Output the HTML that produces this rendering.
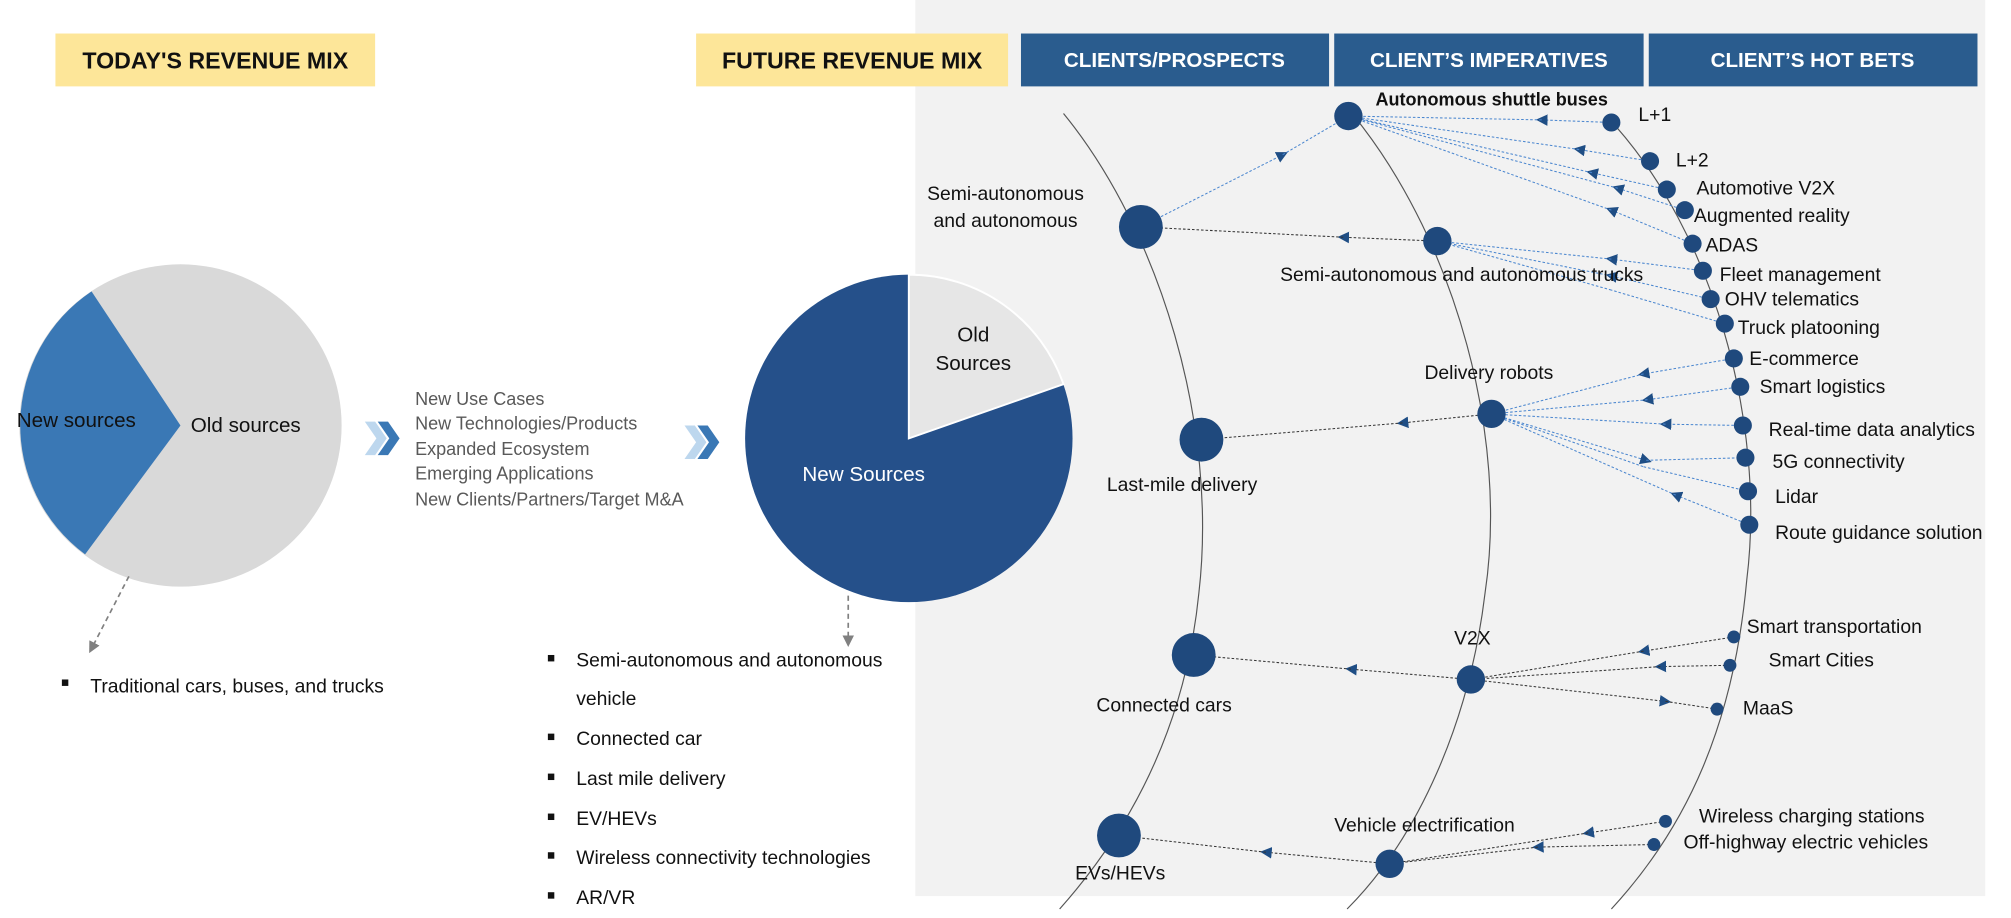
<!DOCTYPE html>
<html><head><meta charset="utf-8"><style>
html,body{margin:0;padding:0;background:#fff;}
svg{display:block;font-family:"Liberation Sans",sans-serif;}
</style></head><body>
<svg width="2011" height="918" viewBox="0 0 1560 712" preserveAspectRatio="none" xmlns="http://www.w3.org/2000/svg">
<defs>
<marker id="ab" viewBox="0 0 10 10" refX="5" refY="5" markerWidth="9" markerHeight="9" orient="auto" markerUnits="userSpaceOnUse"><path d="M0,0L10,5L0,10z" fill="#1f4e85"/></marker>
<marker id="ak" viewBox="0 0 10 10" refX="5" refY="5" markerWidth="9" markerHeight="9" orient="auto" markerUnits="userSpaceOnUse"><path d="M0,0L10,5L0,10z" fill="#1f4e85"/></marker>
<marker id="ag" viewBox="0 0 10 10" refX="8" refY="5" markerWidth="9" markerHeight="9" orient="auto" markerUnits="userSpaceOnUse"><path d="M0,0L10,5L0,10z" fill="#808080"/></marker>
</defs>
<rect x="710" y="0" width="830" height="695" fill="#f2f2f2"/>
<!-- headers -->
<rect x="43" y="26" width="248" height="41" fill="#fde699"/>
<text x="167" y="53" font-size="18" font-weight="bold" text-anchor="middle" fill="#111">TODAY'S REVENUE MIX</text>
<rect x="540" y="26" width="242" height="41" fill="#fde699"/>
<text x="661" y="53" font-size="18" font-weight="bold" text-anchor="middle" fill="#111">FUTURE REVENUE MIX</text>
<rect x="792" y="26" width="239" height="41" fill="#2a5c8e"/>
<text x="911" y="52" font-size="16" font-weight="bold" text-anchor="middle" fill="#fff">CLIENTS/PROSPECTS</text>
<rect x="1035" y="26" width="240" height="41" fill="#2a5c8e"/>
<text x="1155" y="52" font-size="16" font-weight="bold" text-anchor="middle" fill="#fff">CLIENT’S IMPERATIVES</text>
<rect x="1279" y="26" width="255" height="41" fill="#2a5c8e"/>
<text x="1406" y="52" font-size="16" font-weight="bold" text-anchor="middle" fill="#fff">CLIENT’S HOT BETS</text>

<!-- left pie -->
<circle cx="140" cy="330" r="125" fill="#d9d9d9"/>
<path d="M140,330 L71,226 A125,125 0 0 0 66,430 Z" fill="#3a78b5"/>
<text x="13" y="331" font-size="16" fill="#111">New sources</text>
<text x="148" y="335" font-size="16" fill="#111">Old sources</text>
<line x1="100" y1="447" x2="70" y2="505" stroke="#808080" stroke-width="1.3" stroke-dasharray="4,3" marker-end="url(#ag)"/>
<rect x="48" y="527" width="5" height="5" fill="#111"/>
<text x="70" y="537" font-size="15" fill="#111">Traditional cars, buses, and trucks</text>

<!-- chevrons -->
<path d="M283,327 h8 l9,13 l-9,13 h-8 l9,-13z" fill="#bdd7ee"/>
<path d="M293,327 h8 l9,13 l-9,13 h-8 l9,-13z" fill="#3a78b5"/>
<path d="M531,330 h8 l9,13 l-9,13 h-8 l9,-13z" fill="#bdd7ee"/>
<path d="M541,330 h8 l9,13 l-9,13 h-8 l9,-13z" fill="#3a78b5"/>
<g font-size="14" fill="#595959">
<text x="322" y="314">New Use Cases</text>
<text x="322" y="333">New Technologies/Products</text>
<text x="322" y="353">Expanded Ecosystem</text>
<text x="322" y="372">Emerging Applications</text>
<text x="322" y="392">New Clients/Partners/Target M&amp;A</text>
</g>

<!-- right pie -->
<circle cx="705" cy="340" r="127" fill="#25508a"/>
<path d="M705,340 L705,213 A127,127 0 0 1 825,298 Z" fill="#e6e6e6" stroke="#fff" stroke-width="1.5"/>
<text x="755" y="265" font-size="16" text-anchor="middle" fill="#111">Old</text>
<text x="755" y="287" font-size="16" text-anchor="middle" fill="#111">Sources</text>
<text x="670" y="373" font-size="16" text-anchor="middle" fill="#fff">New Sources</text>
<line x1="658" y1="462" x2="658" y2="500" stroke="#808080" stroke-width="1.3" stroke-dasharray="4,3" marker-end="url(#ag)"/>
<g font-size="15" fill="#111">
<rect x="425" y="508" width="5" height="5"/><text x="447" y="517">Semi-autonomous and autonomous</text>
<text x="447" y="547">vehicle</text>
<rect x="425" y="569" width="5" height="5"/><text x="447" y="578">Connected car</text>
<rect x="425" y="600" width="5" height="5"/><text x="447" y="609">Last mile delivery</text>
<rect x="425" y="631" width="5" height="5"/><text x="447" y="640">EV/HEVs</text>
<rect x="425" y="661" width="5" height="5"/><text x="447" y="670">Wireless connectivity technologies</text>
<rect x="425" y="692" width="5" height="5"/><text x="447" y="701">AR/VR</text>
</g>

<!-- arcs -->
<g fill="none" stroke="#555" stroke-width="0.9">
<path d="M825,88 C900,180 945,330 930,460 C920,560 880,640 822,705"/>
<path d="M1052,92 C1130,190 1170,340 1152,460 C1140,560 1100,650 1045,705"/>
<path d="M1248,92 C1330,180 1370,330 1355,450 C1345,560 1310,640 1250,705"/>
</g>

<!-- connectors hot bets -> imperatives (blue) -->
<g stroke="#4a86cf" stroke-width="0.8" stroke-dasharray="2,1.5" fill="none">
<path d="M1250,95 L1196,93" marker-end="url(#ab)"/><path d="M1196,93 L1046,90"/>
<path d="M1280,125 L1225,116" marker-end="url(#ab)"/><path d="M1225,116 L1046,90"/>
<path d="M1293,147 L1235,134" marker-end="url(#ab)"/><path d="M1235,134 L1046,90"/>
<path d="M1307,163 L1255,146" marker-end="url(#ab)"/><path d="M1255,146 L1046,90"/>
<path d="M1313,189 L1250,163" marker-end="url(#ab)"/><path d="M1250,163 L1046,90"/>
<path d="M1321,210 L1250,201" marker-end="url(#ab)"/><path d="M1250,201 L1115,187"/>
<path d="M1327,232 L1250,214" marker-end="url(#ab)"/><path d="M1250,214 L1115,187"/>
<path d="M1338,251 L1250,225"/><path d="M1250,225 L1115,187"/>
<path d="M1345,278 L1275,290" marker-end="url(#ab)"/><path d="M1275,290 L1157,321"/>
<path d="M1350,300 L1278,310" marker-end="url(#ab)"/><path d="M1278,310 L1157,321"/>
<path d="M1352,330 L1292,329" marker-end="url(#ab)"/><path d="M1292,329 L1157,321"/>
<path d="M1157,321 L1277,357" marker-end="url(#ab)"/><path d="M1277,357 L1354,355"/>
<path d="M1157,321 L1275,362"/><path d="M1275,362 L1356,381"/>
<path d="M1357,407 L1300,384" marker-end="url(#ab)"/><path d="M1300,384 L1157,321"/>
<path d="M885,176 L995,120" marker-end="url(#ab)"/><path d="M995,120 L1046,90"/>
</g>
<!-- black connectors -->
<g stroke="#333" stroke-width="0.8" stroke-dasharray="2,1.5" fill="none">
<path d="M1115,187 L1042,184" marker-end="url(#ak)"/><path d="M1042,184 L885,176"/>
<path d="M1157,321 L1088,328" marker-end="url(#ak)"/><path d="M1088,328 L932,341"/>
<path d="M1345,494 L1275,505" marker-end="url(#ak)"/><path d="M1275,505 L1141,527"/>
<path d="M1342,516 L1288,517" marker-end="url(#ak)"/><path d="M1288,517 L1141,527"/>
<path d="M1141,527 L1292,544" marker-end="url(#ak)"/><path d="M1292,544 L1332,550"/>
<path d="M1141,527 L1048,519" marker-end="url(#ak)"/><path d="M1048,519 L926,508"/>
<path d="M1292,637 L1232,646" marker-end="url(#ak)"/><path d="M1232,646 L1078,670"/>
<path d="M1283,655 L1193,657" marker-end="url(#ak)"/><path d="M1193,657 L1078,670"/>
<path d="M1078,670 L982,661" marker-end="url(#ak)"/><path d="M982,661 L868,648"/>
</g>

<!-- nodes -->
<g fill="#1f497d">
<circle cx="885" cy="176" r="17"/><circle cx="932" cy="341" r="17"/><circle cx="926" cy="508" r="17"/><circle cx="868" cy="648" r="17"/>
<circle cx="1046" cy="90" r="11"/><circle cx="1115" cy="187" r="11"/><circle cx="1157" cy="321" r="11"/><circle cx="1141" cy="527" r="11"/><circle cx="1078" cy="670" r="11"/>
<circle cx="1250" cy="95" r="7"/><circle cx="1280" cy="125" r="7"/><circle cx="1293" cy="147" r="7"/><circle cx="1307" cy="163" r="7"/><circle cx="1313" cy="189" r="7"/><circle cx="1321" cy="210" r="7"/><circle cx="1327" cy="232" r="7"/><circle cx="1338" cy="251" r="7"/><circle cx="1345" cy="278" r="7"/><circle cx="1350" cy="300" r="7"/><circle cx="1352" cy="330" r="7"/><circle cx="1354" cy="355" r="7"/><circle cx="1356" cy="381" r="7"/><circle cx="1357" cy="407" r="7"/>
<circle cx="1345" cy="494" r="5"/><circle cx="1342" cy="516" r="5"/><circle cx="1332" cy="550" r="5"/><circle cx="1292" cy="637" r="5"/><circle cx="1283" cy="655" r="5"/>
</g>

<!-- labels -->
<g font-size="15" fill="#111">
<text x="780" y="155" text-anchor="middle">Semi-autonomous</text>
<text x="780" y="176" text-anchor="middle">and autonomous</text>
<text x="917" y="381" text-anchor="middle">Last-mile delivery</text>
<text x="903" y="552" text-anchor="middle">Connected cars</text>
<text x="869" y="682" text-anchor="middle">EVs/HEVs</text>
<text x="1067" y="82" font-weight="bold" font-size="14">Autonomous shuttle buses</text>
<text x="993" y="218">Semi-autonomous and autonomous trucks</text>
<text x="1105" y="294">Delivery robots</text>
<text x="1128" y="500">V2X</text>
<text x="1035" y="645">Vehicle electrification</text>
<text x="1271" y="94">L+1</text>
<text x="1300" y="129">L+2</text>
<text x="1316" y="151">Automotive V2X</text>
<text x="1314" y="172">Augmented reality</text>
<text x="1323" y="195">ADAS</text>
<text x="1334" y="218">Fleet management</text>
<text x="1338" y="237">OHV telematics</text>
<text x="1348" y="259">Truck platooning</text>
<text x="1357" y="283">E-commerce</text>
<text x="1365" y="305">Smart logistics</text>
<text x="1372" y="338">Real-time data analytics</text>
<text x="1375" y="363">5G connectivity</text>
<text x="1377" y="390">Lidar</text>
<text x="1377" y="418">Route guidance solution</text>
<text x="1355" y="491">Smart transportation</text>
<text x="1372" y="517">Smart Cities</text>
<text x="1352" y="554">MaaS</text>
<text x="1318" y="638">Wireless charging stations</text>
<text x="1306" y="658">Off-highway electric vehicles</text>
</g>
</svg>
</body></html>
